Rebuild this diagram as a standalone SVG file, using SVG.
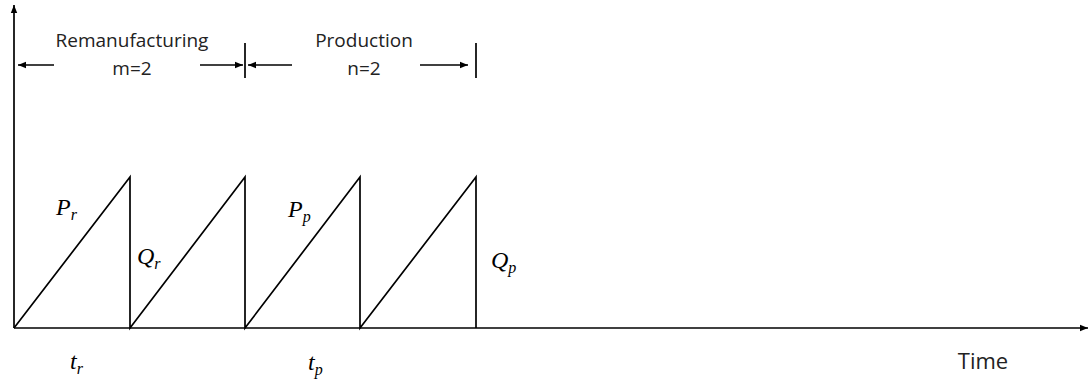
<svg xmlns="http://www.w3.org/2000/svg" width="1090" height="383" viewBox="0 0 1090 383">
<style>
.ln{stroke:#000;stroke-width:1.7;fill:none}
.lbl{font-family:"Open Sans","Noto Sans",sans-serif;font-size:19px;fill:#222;text-anchor:middle}
.m{font-family:"Liberation Serif",serif;font-style:italic;font-size:24px;fill:#000}
.s{font-size:16px}
</style>
<defs>
<marker id="ah" viewBox="0 0 10 10" refX="10" refY="5" markerWidth="8" markerHeight="8" markerUnits="userSpaceOnUse" orient="auto">
<path d="M0,1 L10,5 L0,9 Z" fill="#000"/>
</marker>
</defs>
<rect width="1090" height="383" fill="#fff"/>
<g id="axes">
<line class="ln" x1="14" y1="328" x2="14" y2="5" marker-end="url(#ah)"/>
<line class="ln" x1="14" y1="328" x2="1088" y2="328" marker-end="url(#ah)"/>
</g>
<g id="sawtooth">
<path class="ln" d="M14,328 L130,177 L130,328 L245,177 L245,328 L360,177 L360,328 L476,177 L476,328"/>
</g>
<g id="connectors">
<line class="ln" x1="245" y1="43" x2="245" y2="78"/>
<line class="ln" x1="476" y1="43" x2="476" y2="78"/>
<line class="ln" x1="54" y1="65" x2="18" y2="65" marker-end="url(#ah)"/>
<line class="ln" x1="200" y1="65" x2="243" y2="65" marker-end="url(#ah)"/>
<line class="ln" x1="292" y1="65" x2="248" y2="65" marker-end="url(#ah)"/>
<line class="ln" x1="420" y1="65" x2="468" y2="65" marker-end="url(#ah)"/>
</g>
<g id="remanufacturing">
<text class="lbl" x="132" y="47">Remanufacturing</text>
<text class="lbl" x="132" y="75">m=2</text>
</g>
<g id="production">
<text class="lbl" x="364" y="47">Production</text>
<text class="lbl" x="364" y="75">n=2</text>
</g>
<g id="labels">
<text class="m" x="56" y="215">P<tspan class="s" dy="5">r</tspan></text>
<text class="m" x="137" y="264">Q<tspan class="s" dy="5">r</tspan></text>
<text class="m" x="70" y="369">t<tspan class="s" dy="5">r</tspan></text>
<text class="m" x="288" y="217">P<tspan class="s" dy="5">p</tspan></text>
<text class="m" x="491" y="268">Q<tspan class="s" dy="5">p</tspan></text>
<text class="m" x="308" y="370">t<tspan class="s" dy="5">p</tspan></text>
</g>
<g id="time">
<text class="lbl" x="983" y="369" style="font-size:22px">Time</text>
</g>
</svg>
